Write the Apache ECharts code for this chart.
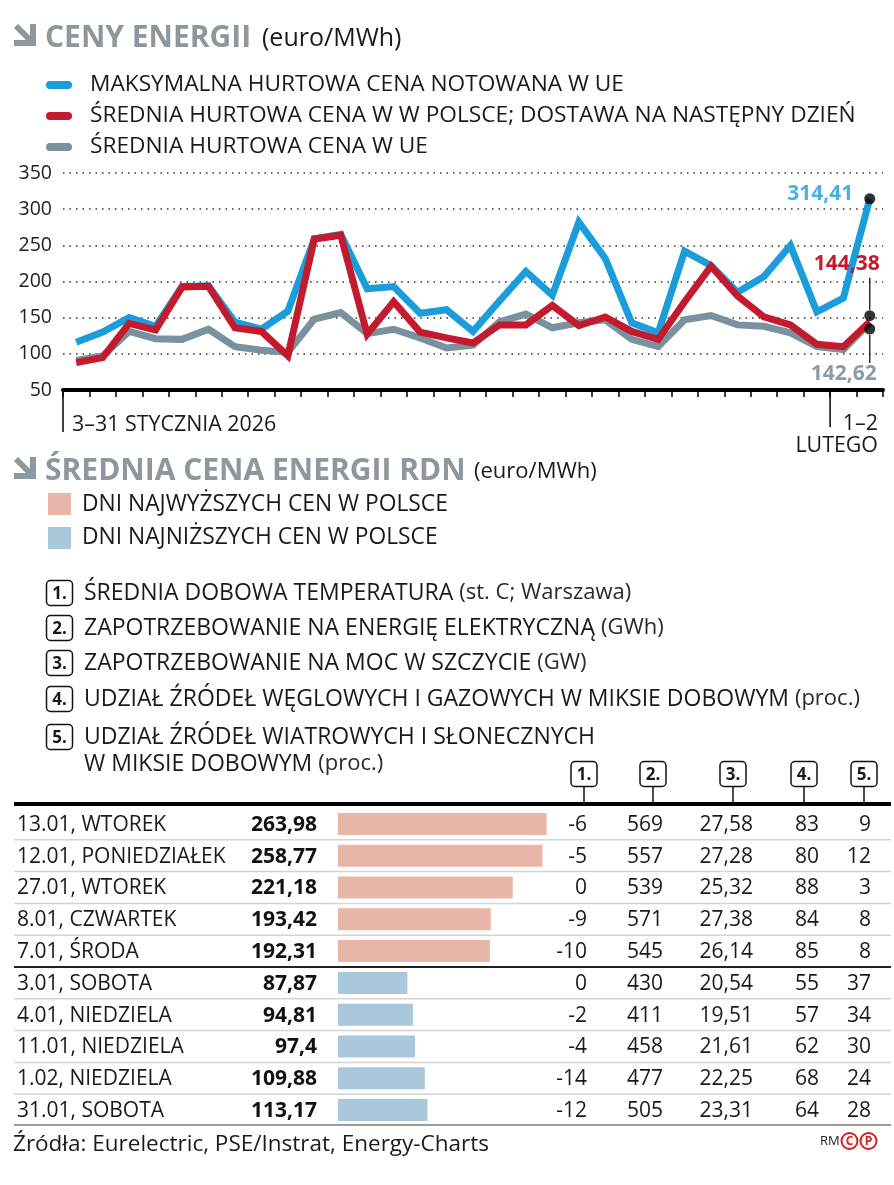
<!DOCTYPE html>
<html><head><meta charset="utf-8">
<script src="https://cdn.jsdelivr.net/npm/echarts@6/dist/echarts.min.js"></script>
<style>html,body{margin:0;padding:0;background:#fff}#c{width:894px;height:1185px}</style>
</head><body><div id="c"></div>
<script>
// ---------- DATA ----------
const days = ['3.01','4.01','5.01','6.01','7.01','8.01','9.01','10.01','11.01','12.01','13.01','14.01','15.01','16.01','17.01','18.01','19.01','20.01','21.01','22.01','23.01','24.01','25.01','26.01','27.01','28.01','29.01','30.01','31.01','1.02','2.02'];
const maxEU = [116,130,150,138,193,194,144,134,159,259,265,190,193,156,161,131,173,214,181,282,232,143,129,242,222,185,207,250,158,177,314.41];
const plAvg = [87.87,94.81,142,133,192.31,193.42,136,131,97.4,258.77,263.98,127,172,130,122,115,140,140,167,139,151,131,120,172,221.18,180,151,140,113.17,109.88,144.38];
const euAvg = [91,97,131,121,120,134,110,105,102,148,157,128,134,122,108,112,144,155,136,143,147,120,110,147,153,140,138,129,110,106,142.62];
const seriesNames = ['MAKSYMALNA HURTOWA CENA NOTOWANA W UE','ŚREDNIA HURTOWA CENA W W POLSCE; DOSTAWA NA NASTĘPNY DZIEŃ','ŚREDNIA HURTOWA CENA W UE'];

const rowNames = ['13.01, WTOREK','12.01, PONIEDZIAŁEK','27.01, WTOREK','8.01, CZWARTEK','7.01, ŚRODA','3.01, SOBOTA','4.01, NIEDZIELA','11.01, NIEDZIELA','1.02, NIEDZIELA','31.01, SOBOTA'];
const rowValues = [263.98,258.77,221.18,193.42,192.31,87.87,94.81,97.4,109.88,113.17];
const rowGroup = ['high','high','high','high','high','low','low','low','low','low'];
const col1 = [-6,-5,0,-9,-10,0,-2,-4,-14,-12];
const col2 = [569,557,539,571,545,430,411,458,477,505];
const col3 = [27.58,27.28,25.32,27.38,26.14,20.54,19.51,21.61,22.25,23.31];
const col4 = [83,80,88,84,85,55,57,62,68,64];
const col5 = [9,12,3,8,8,37,34,30,24,28];
const colNotes = [
  ['ŚREDNIA DOBOWA TEMPERATURA','(st. C; Warszawa)'],
  ['ZAPOTRZEBOWANIE NA ENERGIĘ ELEKTRYCZNĄ','(GWh)'],
  ['ZAPOTRZEBOWANIE NA MOC W SZCZYCIE','(GW)'],
  ['UDZIAŁ ŹRÓDEŁ WĘGLOWYCH I GAZOWYCH W MIKSIE DOBOWYM','(proc.)'],
  ['UDZIAŁ ŹRÓDEŁ WIATROWYCH I SŁONECZNYCH\nW MIKSIE DOBOWYM','(proc.)']
];

// ---------- STYLE ----------
const F = "'Open Sans', sans-serif";
const C_BLUE = '#1b9ddb', C_RED = '#c41a2d', C_GRAY = '#7a91a0';
const C_PINK = '#e8b6a8', C_LBLUE = '#a9c8dc', C_TITLE = '#8e979d', C_TXT = '#1a1a1a';
const fmt = v => String(v).replace('.', ',');

const chart = echarts.init(document.getElementById('c'));
const n = days.length;

const option = {
  animation: false,
  textStyle: {fontFamily: F},
  grid: [
    {left: 63, top: 173, width: 820, height: 217},
    {left: 338, top: 808, width: 237, height: 318}
  ],
  xAxis: [
    {gridIndex: 0, type: 'category', data: days, boundaryGap: true,
     axisLine: {lineStyle: {color: '#000', width: 4}},
     axisTick: {show: true, interval: 0, length: 7, lineStyle: {color: '#000', width: 1.5}},
     axisLabel: {show: false}, splitLine: {show: false}},
    {gridIndex: 1, type: 'value', min: 0, max: 300, show: false}
  ],
  yAxis: [
    {gridIndex: 0, type: 'value', min: 50, max: 350, interval: 50,
     axisLine: {show: false}, axisTick: {show: false},
     axisLabel: {color: '#222', fontSize: 19.5, margin: 11, fontFamily: F},
     splitLine: {lineStyle: {color: '#333', width: 1.5, type: [1.5, 5]}}},
    {gridIndex: 1, type: 'category', data: rowNames, inverse: true, show: false}
  ],
  series: [
    {name: seriesNames[2], type: 'line', xAxisIndex: 0, yAxisIndex: 0, data: euAvg, symbol: 'none', z: 2,
     lineStyle: {color: C_GRAY, width: 7, join: 'miter', miterLimit: 4}},
    {name: seriesNames[0], type: 'line', xAxisIndex: 0, yAxisIndex: 0, data: maxEU, symbol: 'none', z: 3,
     lineStyle: {color: C_BLUE, width: 7, join: 'miter', miterLimit: 4}},
    {name: seriesNames[1], type: 'line', xAxisIndex: 0, yAxisIndex: 0, data: plAvg, symbol: 'none', z: 4,
     lineStyle: {color: C_RED, width: 7, join: 'miter', miterLimit: 4}},
    {type: 'scatter', xAxisIndex: 0, yAxisIndex: 0, z: 10, symbolSize: 11, itemStyle: {color: '#000'},
     data: [[n - 1, maxEU[n - 1]]],
     label: {show: true, position: 'left', distance: 11, offset: [0, -5], formatter: p => fmt(p.value[1]),
             color: C_BLUE, fontWeight: 'bold', fontSize: 21, fontFamily: F}},
    {type: 'scatter', xAxisIndex: 0, yAxisIndex: 0, z: 10, symbolSize: 11, symbolOffset: [0, -6], itemStyle: {color: '#000'},
     data: [[n - 1, plAvg[n - 1]]]},
    {type: 'scatter', xAxisIndex: 0, yAxisIndex: 0, z: 10, symbolSize: 11, symbolOffset: [0, 6], itemStyle: {color: '#000'},
     data: [[n - 1, euAvg[n - 1]]]},
    {type: 'bar', xAxisIndex: 1, yAxisIndex: 1, barWidth: 22, silent: true,
     data: rowValues.map((v, i) => ({value: v, itemStyle: {color: rowGroup[i] === 'high' ? C_PINK : C_LBLUE}}))}
  ]
};
chart.setOption(option);

// ---------- GRAPHIC (texts, rules) ----------
function txt(x, y, text, size, o) {
  o = o || {};
  return {type: 'text', x: x, y: y, silent: true, z: 100,
    style: Object.assign({text: text, fill: o.color || C_TXT, fontSize: size, fontFamily: F,
      fontWeight: o.weight || 'normal', align: o.align || 'left', verticalAlign: o.valign || 'middle'}, o.style || {})};
}
function ln(x1, y1, x2, y2, color, w, cap) {
  return {type: 'line', silent: true, z: 90, shape: {x1: x1, y1: y1, x2: x2, y2: y2},
    style: {stroke: color, lineWidth: w, lineCap: cap || 'butt'}};
}
function arrowIcon(y0) {
  return [
    {type: 'polygon', silent: true, z: 100, shape: {points: [[30, y0 - 13], [36, y0 - 13], [36, y0 + 9], [14, y0 + 9], [14, y0 + 3], [30, y0 + 3]]}, style: {fill: C_TITLE}},
    {type: 'line', silent: true, z: 100, shape: {x1: 16, y1: y0 - 11, x2: 31, y2: y0 + 4}, style: {stroke: C_TITLE, lineWidth: 6}}
  ];
}
function numBox(cx, cy, label) {
  return [
    {type: 'rect', silent: true, z: 100, shape: {x: cx - 13, y: cy - 12.5, width: 26, height: 25, r: 4},
     style: {fill: '#fff', stroke: '#111', lineWidth: 1.5}},
    txt(cx, cy + 1, label, 17, {weight: 'bold', align: 'center'})
  ];
}
function richNote(x, y, main, extra) {
  return {type: 'text', x: x, y: y, silent: true, z: 100,
    style: {text: '{a|' + main + ' }{b|' + extra + '}', verticalAlign: 'middle', align: 'left',
      rich: {a: {fontSize: 23, fontFamily: F, fill: C_TXT, color: C_TXT},
             b: {fontSize: 22, fontFamily: F, fill: '#2a2a2a', color: '#2a2a2a'}}}};
}

const g = [];
// Title 1
g.push(...arrowIcon(37));
g.push(txt(45, 38, 'CENY ENERGII', 30, {weight: 'bold', color: C_TITLE}));
g.push(txt(262, 39, '(euro/MWh)', 25));
// Legend 1
const legCols = [C_BLUE, C_RED, C_GRAY];
const legY = [85, 116, 147];
[0, 1, 2].forEach(i => {
  g.push(ln(50, legY[i], 68, legY[i], legCols[i], 8, 'round'));
  g.push(txt(90, legY[i], seriesNames[i], 22.7));
});

// end labels
const pRed = chart.convertToPixel({gridIndex: 0}, [n - 1, plAvg[n - 1]]);
const pGray = chart.convertToPixel({gridIndex: 0}, [n - 1, euAvg[n - 1]]);
g.push(ln(pRed[0], pRed[1] - 12, pRed[0], pRed[1] - 44, '#000', 1.2));
g.push(txt(pRed[0] + 10, pRed[1] - 58, fmt(plAvg[n - 1]), 21, {weight: 'bold', color: C_RED, align: 'right'}));
g.push(ln(pGray[0], pGray[1] + 12, pGray[0], pGray[1] + 40, '#000', 1.2));
g.push(txt(pGray[0] + 7, pGray[1] + 51, fmt(euAvg[n - 1]), 21, {weight: 'bold', color: '#8a9ca8', align: 'right'}));

// x-axis period markers
const axisY = chart.convertToPixel({gridIndex: 0}, [0, 50])[1];
const x28 = chart.convertToPixel({gridIndex: 0}, [28, 50])[0];
const x29 = chart.convertToPixel({gridIndex: 0}, [29, 50])[0];
const xSep = (x28 + x29) / 2;
g.push(ln(63, axisY, 63, axisY + 42, '#000', 1.5));
g.push(ln(xSep, axisY, xSep, axisY + 37, '#000', 1.5));
g.push(txt(72, axisY + 35, '3–31 STYCZNIA 2026', 21.4));
g.push(txt(878, axisY + 34, '1–2', 21.4, {align: 'right'}));
g.push(txt(878, axisY + 56, 'LUTEGO', 21.4, {align: 'right'}));

// Title 2
g.push(...arrowIcon(470));
g.push(txt(45, 471, 'ŚREDNIA CENA ENERGII RDN', 30, {weight: 'bold', color: C_TITLE}));
g.push(txt(474, 472, '(euro/MWh)', 22));
// Legend 2
g.push({type: 'rect', silent: true, z: 100, shape: {x: 48, y: 493, width: 23, height: 22}, style: {fill: C_PINK}});
g.push(txt(82, 505, 'DNI NAJWYŻSZYCH CEN W POLSCE', 22.8));
g.push({type: 'rect', silent: true, z: 100, shape: {x: 48, y: 527, width: 23, height: 22}, style: {fill: C_LBLUE}});
g.push(txt(82, 538, 'DNI NAJNIŻSZYCH CEN W POLSCE', 22.8));

// Numbered notes
const noteY = [593, 628, 663, 699, 737];
colNotes.forEach((nt, i) => {
  g.push(...numBox(59.5, noteY[i], (i + 1) + '.'));
  const parts = nt[0].split('\n');
  if (parts.length === 1) {
    g.push(richNote(84, noteY[i], nt[0], nt[1]));
  } else {
    g.push(txt(84, noteY[i], parts[0], 23));
    g.push(richNote(84, noteY[i] + 27, parts[1], nt[1]));
  }
});

// Table
const rowY = rowNames.map(nm => chart.convertToPixel({yAxisIndex: 1}, nm));
const rowH = rowY[1] - rowY[0];
const topRule = rowY[0] - rowH / 2 - 4;
const colX = [584, 653, 733, 804, 864];
const colRight = [587, 663, 753, 819, 871];
colX.forEach((cx, i) => {
  g.push(...numBox(cx, 774, (i + 1) + '.'));
  g.push(ln(cx, 786.5, cx, topRule, '#111', 1.5));
});
g.push(ln(14, topRule, 891, topRule, '#000', 4));
const cols = [col1, col2, col3, col4, col5];
rowNames.forEach((nm, i) => {
  const y = rowY[i] + 1;
  g.push(txt(17, y, nm, 21));
  g.push(txt(317, y, fmt(rowValues[i]), 21, {weight: 'bold', align: 'right', color: '#111'}));
  cols.forEach((c, j) => g.push(txt(colRight[j], y, fmt(c[i]), 21, {align: 'right'})));
  if (i < rowNames.length - 1) {
    const sy = (rowY[i] + rowY[i + 1]) / 2;
    const dark = rowGroup[i] !== rowGroup[i + 1];
    g.push(ln(14, sy, 891, sy, dark ? '#222' : '#d4d4d4', dark ? 2 : 1.5));
  }
});
const botRule = rowY[rowY.length - 1] + rowH / 2 - 1;
g.push(ln(14, botRule, 891, botRule, '#9a9a9a', 2));

// Source + logo
g.push(txt(13, 1145, 'Źródła: Eurelectric, PSE/Instrat, Energy-Charts', 22.5));
g.push(txt(820, 1141, 'RM', 13, {color: '#222'}));
[[849.5, 'C'], [868.5, 'P']].forEach(([cx, ch]) => {
  g.push({type: 'circle', silent: true, z: 100, shape: {cx: cx, cy: 1141, r: 8}, style: {fill: 'none', stroke: '#d42020', lineWidth: 2}});
  g.push(txt(cx, 1142, ch, 12, {weight: 'bold', color: '#d42020', align: 'center'}));
});

chart.setOption({graphic: g});
</script></body></html>
